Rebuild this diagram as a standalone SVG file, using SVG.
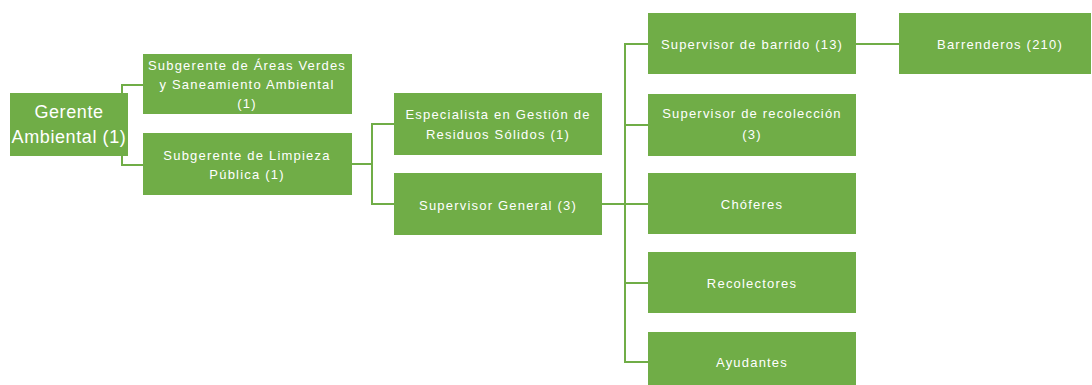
<svg xmlns="http://www.w3.org/2000/svg" width="1092" height="385" viewBox="0 0 1092 385">
  <style>
    .box { fill: #70AD47; }
    .lbl { fill: #ffffff; font-family: "Liberation Sans", Arial, sans-serif; font-size: 13px; letter-spacing: 1.2px; text-anchor: middle; dominant-baseline: central; }
    .big { font-size: 18px; letter-spacing: 0.6px; }
    .link { fill: none; stroke: #70AD47; stroke-width: 2; }
  </style>
  <rect width="1092" height="385" fill="#ffffff"/>

  <!-- connectors -->
  <g id="connectors" class="link">
    <path d="M143 85 H122 V165 H143"/>
    <path d="M352 164 H372"/>
    <path d="M394 124 H372 V204 H394"/>
    <path d="M602 204 H625"/>
    <path d="M648 44 H625 V362 H648"/>
    <path d="M625 125 H648"/>
    <path d="M625 204 H648"/>
    <path d="M625 283 H648"/>
    <path d="M856 44 H899"/>
  </g>

  <g id="gerente">
    <rect class="box" x="10" y="93" width="118" height="63"/>
    <text class="lbl big" x="69" y="112">Gerente</text>
    <text class="lbl big" x="69" y="137">Ambiental (1)</text>
  </g>

  <g id="subgerente-areas-verdes">
    <rect class="box" x="143" y="54" width="209" height="60"/>
    <text class="lbl" x="247" y="65">Subgerente  de Áreas  Verdes</text>
    <text class="lbl" x="247" y="84">y Saneamiento  Ambiental</text>
    <text class="lbl" x="247" y="103">(1)</text>
  </g>

  <g id="subgerente-limpieza">
    <rect class="box" x="143" y="133" width="209" height="62"/>
    <text class="lbl" x="247" y="155">Subgerente  de Limpieza</text>
    <text class="lbl" x="247" y="174">Pública (1)</text>
  </g>

  <g id="especialista">
    <rect class="box" x="394" y="93" width="208" height="62"/>
    <text class="lbl" x="498" y="114">Especialista  en  Gestión de</text>
    <text class="lbl" x="498" y="134">Residuos Sólidos (1)</text>
  </g>

  <g id="supervisor-general">
    <rect class="box" x="394" y="173" width="208" height="62"/>
    <text class="lbl" x="498" y="205">Supervisor General  (3)</text>
  </g>

  <g id="supervisor-barrido">
    <rect class="box" x="648" y="13" width="208" height="61"/>
    <text class="lbl" x="752" y="44">Supervisor de barrido (13)</text>
  </g>

  <g id="barrenderos">
    <rect class="box" x="899" y="13" width="192" height="61"/>
    <text class="lbl" x="1000" y="44">Barrenderos  (210)</text>
  </g>

  <g id="supervisor-recoleccion">
    <rect class="box" x="648" y="94" width="208" height="62"/>
    <text class="lbl" x="752" y="113">Supervisor  de recolección</text>
    <text class="lbl" x="752" y="134">(3)</text>
  </g>

  <g id="choferes">
    <rect class="box" x="648" y="173" width="208" height="61"/>
    <text class="lbl" x="752" y="204">Chóferes</text>
  </g>

  <g id="recolectores">
    <rect class="box" x="648" y="252" width="208" height="61"/>
    <text class="lbl" x="752" y="283">Recolectores</text>
  </g>

  <g id="ayudantes">
    <rect class="box" x="648" y="332" width="208" height="62"/>
    <text class="lbl" x="752" y="362">Ayudantes</text>
  </g>
</svg>
